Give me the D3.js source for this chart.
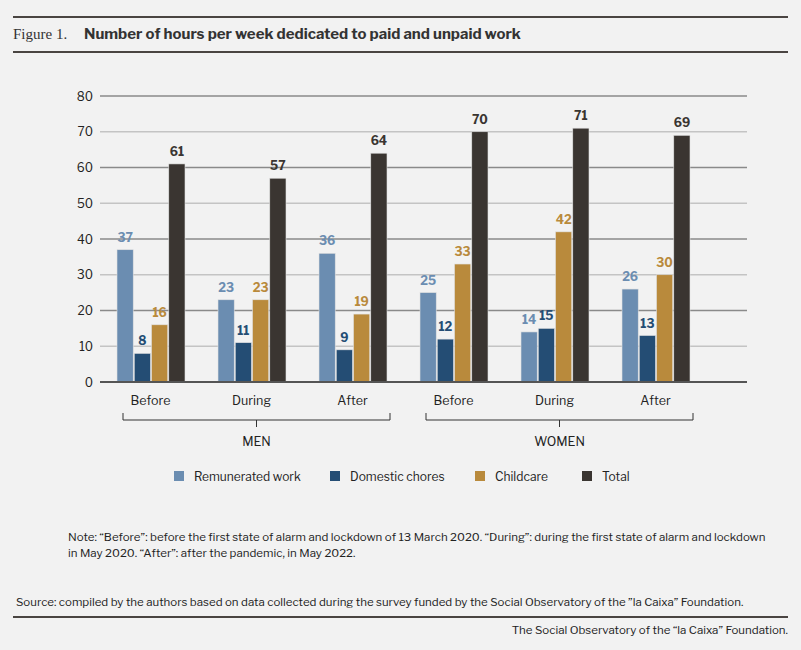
<!DOCTYPE html>
<html><head><meta charset="utf-8">
<script src="https://cdn.jsdelivr.net/npm/d3@7"></script>
<style>body{margin:0;background:#f2f2f2;font-family:"Libre Franklin","Roboto","Liberation Sans",sans-serif;}</style>
</head><body><svg id="c" width="801" height="650"></svg>
<script>
const groups=["Before","During","After","Before","During","After"];
const sexes=["MEN","WOMEN"];
const series=["Remunerated work","Domestic chores","Childcare","Total"];
const remunerated=[37,23,36,25,14,26];
const domestic=[8,11,9,12,15,13];
const childcare=[16,23,19,33,42,30];
const total=[61,57,64,70,71,69];
const yTicks=[0,10,20,30,40,50,60,70,80];
const colors=["#6b8db1","#244d74","#b98a3c","#3a3531"];
const labelColors=["#6b8db1","#244d74","#b98a3c","#3a3531"];
const vals=[remunerated,domestic,childcare,total];

const svg=d3.select("#c");
svg.append("rect").attr("width",801).attr("height",650).attr("fill","#f2f2f2");
const line=(x1,x2,y,w,c)=>svg.append("line").attr("x1",x1).attr("x2",x2).attr("y1",y).attr("y2",y).attr("stroke",c||"#4a4542").attr("stroke-width",w);
line(13,788,17,2);line(13,788,52,2);line(13,788,617,2);
svg.append("text").attr("x",13).attr("y",39).attr("font-family","Liberation Serif, serif").attr("font-size",15).attr("fill","#333").text("Figure 1.");
svg.append("text").attr("x",84).attr("y",39).attr("font-size",15).attr("font-weight","bold").attr("fill","#333").text("Number of hours per week dedicated to paid and unpaid work");

const y=d3.scaleLinear().domain([0,80]).range([382,96]);
const x=d3.scaleBand().domain(d3.range(6)).range([100,706]);
const xs=d3.scaleBand().domain(d3.range(4)).range([17,85]).paddingInner(0.06);
yTicks.forEach(t=>{
  line(100,747,y(t),t===0?2:1.3,t===0?"#555":(t%20===0?"#8a8a8a":"#c4c4c4"));
  svg.append("text").attr("x",93).attr("y",y(t)+4.5).attr("text-anchor","end").attr("font-size",12).attr("fill","#222").text(t);
});
vals.forEach((arr,s)=>{
  arr.forEach((v,g)=>{
    const bx=x(g)+xs(s);
    svg.append("rect").attr("x",bx).attr("y",y(v)).attr("width",xs.bandwidth()).attr("height",y(0)-y(v)).attr("fill",colors[s]).attr("stroke","#e0e0e0").attr("stroke-width",0.6);
    svg.append("text").attr("x",bx+xs.bandwidth()/2).attr("y",y(v)-8).attr("text-anchor","middle").attr("font-size",12).attr("font-weight","bold").attr("fill",labelColors[s]).text(v);
  });
});
line(100,747,y(0),2,"#555");
groups.forEach((g,i)=>svg.append("text").attr("x",x(i)+x.bandwidth()/2).attr("y",405).attr("text-anchor","middle").attr("font-size",12.5).attr("fill","#222").text(g));
sexes.forEach((s,i)=>{
  const x1=x(i*3)+23, x2=x(i*3+2)+x.bandwidth()-13, cx=(x1+x2)/2;
  svg.append("path").attr("d",`M${x1},413V420H${x2}V413M${cx},420V427`).attr("fill","none").attr("stroke","#333").attr("stroke-width",1);
  svg.append("text").attr("x",cx).attr("y",446).attr("text-anchor","middle").attr("font-size",12.5).attr("fill","#222").text(s);
});
const lx=[174,330,475,582];
series.forEach((s,i)=>{
  svg.append("rect").attr("x",lx[i]).attr("y",471).attr("width",10).attr("height",10).attr("fill",colors[i]);
  svg.append("text").attr("x",lx[i]+20).attr("y",480.5).attr("font-size",12).attr("fill","#222").text(s);
});
const note=["Note: “Before”: before the first state of alarm and lockdown of 13 March 2020. “During”: during the first state of alarm and lockdown","in May 2020. “After”: after the pandemic, in May 2022."];
note.forEach((t,i)=>svg.append("text").attr("x",68).attr("y",541+i*16).attr("font-size",11.5).attr("fill","#222").text(t));
svg.append("text").attr("x",16).attr("y",606).attr("font-size",11.5).attr("fill","#222").text("Source: compiled by the authors based on data collected during the survey funded by the Social Observatory of the ”la Caixa” Foundation.");
svg.append("text").attr("x",788).attr("y",634).attr("text-anchor","end").attr("font-size",11.5).attr("fill","#222").text("The Social Observatory of the “la Caixa” Foundation.");
</script></body></html>
